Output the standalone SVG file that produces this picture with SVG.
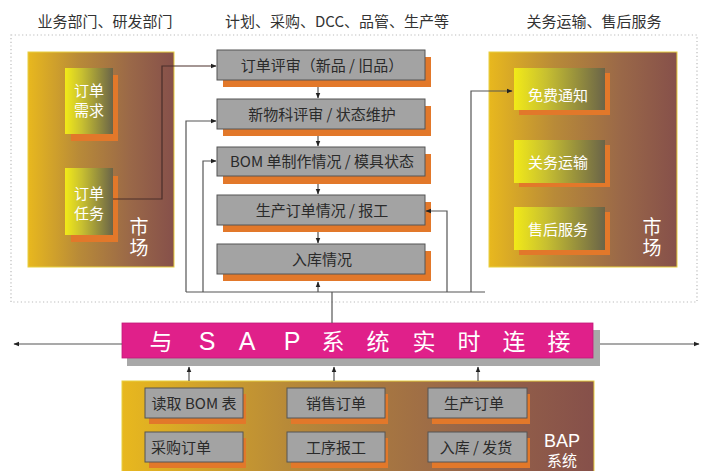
<svg xmlns="http://www.w3.org/2000/svg" width="701" height="471" viewBox="0 0 701 471">
<defs>
<linearGradient id="mkt" x1="0" y1="0" x2="1" y2="0">
<stop offset="0" stop-color="#e8b81e"/>
<stop offset="0.35" stop-color="#b88a38"/>
<stop offset="0.7" stop-color="#9a6848"/>
<stop offset="1" stop-color="#86504a"/>
</linearGradient>
<linearGradient id="inner" x1="0" y1="0" x2="1" y2="0">
<stop offset="0" stop-color="#f2ea18"/>
<stop offset="0.35" stop-color="#c8c030"/>
<stop offset="1" stop-color="#6a6448"/>
</linearGradient>
<marker id="ah" viewBox="0 0 10 10" refX="9" refY="5" markerWidth="6" markerHeight="6" orient="auto-start-reverse" markerUnits="userSpaceOnUse">
<path d="M0,1 L10,5 L0,9 z" fill="#222"/>
</marker>
<style>
.hd{font-family:"Noto Sans CJK SC","Noto Sans",sans-serif;font-size:15px;fill:#333;text-anchor:middle}
.bx{fill:#a3a3a3;stroke:#555;stroke-width:1}
.sh{fill:#e2782a}
.bt{font-family:"Noto Sans CJK SC","Liberation Sans",sans-serif;font-size:15px;fill:#2a2a2a;text-anchor:middle}
.wt{font-family:"Noto Sans CJK SC","Liberation Sans",sans-serif;font-size:15px;fill:#fff;text-anchor:middle}
.mk{font-family:"Noto Sans CJK SC",sans-serif;font-size:19px;fill:#fff;writing-mode:vertical-rl;letter-spacing:2px}
.ln{fill:none;stroke:#555;stroke-width:1.2}
.lnd{fill:none;stroke:#4a2e2a;stroke-width:1.2}
.mb{fill:url(#mkt);stroke:#e8d040;stroke-width:1}
.ib{fill:url(#inner)}
</style>
</defs>
<rect width="701" height="471" fill="#fff"/>
<!-- headings -->
<text class="hd" x="105" y="27">业务部门、研发部门</text>
<text class="hd" x="337" y="27">计划、采购、DCC、品管、生产等</text>
<text class="hd" x="594" y="27">关务运输、售后服务</text>
<!-- dotted frame -->
<rect x="11" y="35" width="686" height="267" fill="none" stroke="#bbb" stroke-width="1.2" stroke-dasharray="1.2,2.5"/>

<!-- left market -->
<g id="market-left">
<rect class="mb" x="28" y="52" width="146" height="215"/>
<rect class="sh" x="71" y="75" width="47" height="66"/>
<rect class="ib" x="65" y="68" width="48" height="66"/>
<text class="wt" x="89" y="96" font-size="16">订单</text>
<text class="wt" x="89" y="116" font-size="16">需求</text>
<rect class="sh" x="71" y="176" width="47" height="66"/>
<rect class="ib" x="65" y="168" width="48" height="67"/>
<text class="wt" x="89" y="199" font-size="16">订单</text>
<text class="wt" x="89" y="219" font-size="16">任务</text>
<text class="mk" x="139" y="217">市场</text>
</g>

<!-- right market -->
<g id="market-right">
<rect class="mb" x="489" y="52" width="188" height="215"/>
<rect class="sh" x="519" y="73" width="91" height="42"/>
<rect class="ib" x="514" y="68" width="91" height="42"/>
<text class="wt" x="558" y="101" font-size="16">免费通知</text>
<rect class="sh" x="519" y="145" width="91" height="42"/>
<rect class="ib" x="514" y="140" width="91" height="43"/>
<text class="wt" x="558" y="168" font-size="16">关务运输</text>
<rect class="sh" x="519" y="212" width="91" height="43"/>
<rect class="ib" x="514" y="207" width="91" height="43"/>
<text class="wt" x="558" y="235" font-size="16">售后服务</text>
<text class="mk" x="652" y="217">市场</text>
</g>

<!-- middle column -->
<g id="n1"><rect class="sh" x="223" y="57" width="208" height="30"/><rect class="bx" x="217" y="50" width="208" height="30"/><text class="bt" x="322" y="71">订单评审（新品 / 旧品）</text></g>
<g id="n2"><rect class="sh" x="223" y="106" width="208" height="30"/><rect class="bx" x="217" y="99" width="208" height="30"/><text class="bt" x="322" y="120">新物科评审 / 状态维护</text></g>
<g id="n3"><rect class="sh" x="223" y="154" width="208" height="30"/><rect class="bx" x="217" y="147" width="208" height="29"/><text class="bt" x="322" y="167">BOM 单制作情况 / 模具状态</text></g>
<g id="n4"><rect class="sh" x="223" y="202" width="208" height="30"/><rect class="bx" x="217" y="195" width="208" height="30"/><text class="bt" x="322" y="216">生产订单情况 / 报工</text></g>
<g id="n5"><rect class="sh" x="223" y="251" width="208" height="30"/><rect class="bx" x="217" y="244" width="208" height="30"/><text class="bt" x="322" y="265">入库情况</text></g>

<!-- SAP bar -->
<g id="sap">
<rect x="127" y="330" width="473" height="36" fill="#a8a8a8"/>
<rect x="122" y="323" width="471" height="35" fill="#e0208a" stroke="#c01a78" stroke-width="0.8"/>
<g font-family="Liberation Sans,'Noto Sans CJK SC',sans-serif" font-size="25" fill="#fff" text-anchor="middle">
<text x="161" y="350" font-family="Noto Sans CJK SC,sans-serif" font-size="23">与</text>
<text x="207" y="350">S</text>
<text x="247" y="350">A</text>
<text x="292" y="350">P</text>
<text x="333" y="350" font-family="Noto Sans CJK SC,sans-serif" font-size="23">系</text>
<text x="378" y="350" font-family="Noto Sans CJK SC,sans-serif" font-size="23">统</text>
<text x="424" y="350" font-family="Noto Sans CJK SC,sans-serif" font-size="23">实</text>
<text x="469" y="350" font-family="Noto Sans CJK SC,sans-serif" font-size="23">时</text>
<text x="514" y="350" font-family="Noto Sans CJK SC,sans-serif" font-size="23">连</text>
<text x="559" y="350" font-family="Noto Sans CJK SC,sans-serif" font-size="23">接</text>
</g>
</g>

<!-- BAP system -->
<g id="bap">
<rect class="mb" x="122" y="381" width="472" height="95"/>
<text x="562" y="447" font-family="Liberation Sans,sans-serif" font-size="18" fill="#fff" text-anchor="middle">BAP</text>
<text class="wt" x="562" y="466" font-size="14">系统</text>
</g>
<g id="b1"><rect class="sh" x="149" y="394" width="97" height="30"/><rect class="bx" x="145" y="388" width="98" height="30"/><text class="bt" x="194" y="409">读取 BOM 表</text></g>
<g id="b2"><rect class="sh" x="149" y="438" width="97" height="30"/><rect class="bx" x="145" y="432" width="98" height="30"/><text class="bt" x="181" y="453">采购订单</text></g>
<g id="b3"><rect class="sh" x="291" y="394" width="97" height="30"/><rect class="bx" x="287" y="388" width="98" height="30"/><text class="bt" x="336" y="409">销售订单</text></g>
<g id="b4"><rect class="sh" x="291" y="438" width="97" height="30"/><rect class="bx" x="287" y="432" width="98" height="30"/><text class="bt" x="336" y="453">工序报工</text></g>
<g id="b5"><rect class="sh" x="432" y="394" width="98" height="30"/><rect class="bx" x="428" y="388" width="99" height="30"/><text class="bt" x="474" y="409">生产订单</text></g>
<g id="b6"><rect class="sh" x="432" y="438" width="98" height="30"/><rect class="bx" x="428" y="432" width="99" height="30"/><text class="bt" x="476" y="453">入库 / 发货</text></g>

<!-- connectors -->
<g id="connectors">
<polyline class="lnd" points="113,199 162,199 162,66 216,66" marker-end="url(#ah)"/>
<line class="ln" x1="318" y1="87" x2="318" y2="98" marker-end="url(#ah)"/>
<line class="ln" x1="318" y1="136" x2="318" y2="146" marker-end="url(#ah)"/>
<line class="ln" x1="318" y1="184" x2="318" y2="194" marker-end="url(#ah)"/>
<line class="ln" x1="318" y1="232" x2="318" y2="243" marker-end="url(#ah)"/>
<line class="ln" x1="186" y1="292" x2="485" y2="292"/>
<polyline class="ln" points="186,292 186,121 216,121" marker-end="url(#ah)"/>
<polyline class="ln" points="203,292 203,161 216,161" marker-end="url(#ah)"/>
<polyline class="ln" points="447,292 447,211 426,211" marker-end="url(#ah)"/>
<line class="ln" x1="318" y1="292" x2="318" y2="282" marker-end="url(#ah)"/>
<polyline class="ln" points="471,292 471,91 512,91" marker-end="url(#ah)"/>
<line class="ln" x1="332" y1="292" x2="332" y2="323"/>
<line class="ln" x1="122" y1="344" x2="14" y2="344" marker-end="url(#ah)"/>
<line class="ln" x1="600" y1="344" x2="699" y2="344" marker-end="url(#ah)"/>
<line class="ln" x1="189" y1="381" x2="189" y2="367" marker-end="url(#ah)"/>
<line class="ln" x1="334" y1="381" x2="334" y2="367" marker-end="url(#ah)"/>
<line class="ln" x1="478" y1="381" x2="478" y2="367" marker-end="url(#ah)"/>
</g>
</svg>
